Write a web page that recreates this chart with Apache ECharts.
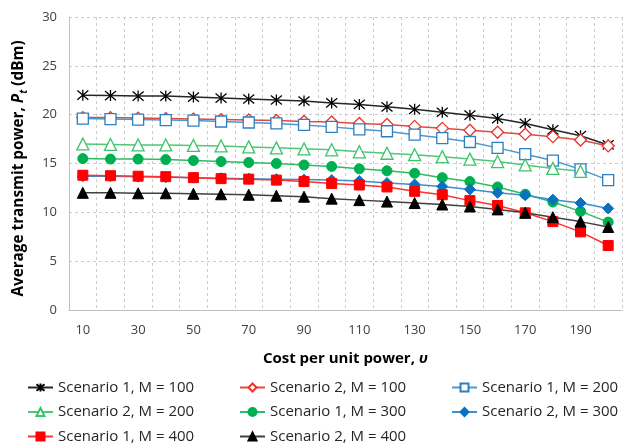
<!DOCTYPE html>
<html>
<head>
<meta charset="utf-8">
<script src="https://cdn.jsdelivr.net/npm/echarts@6/dist/echarts.min.js"></script>
<style>html,body{margin:0;padding:0;background:#fff}#c{width:624px;height:444px}</style>
</head>
<body>
<div id="c"></div>
<script>
var categories = [10,20,30,40,50,60,70,80,90,100,110,120,130,140,150,160,170,180,190,200];
var yTicks = [0,5,10,15,20,25,30];
var s1m100 = [22.0,21.95,21.9,21.9,21.8,21.7,21.6,21.5,21.4,21.2,21.05,20.8,20.55,20.25,19.95,19.6,19.1,18.45,17.85,16.9];
var s2m100 = [19.7,19.7,19.65,19.6,19.55,19.5,19.45,19.4,19.3,19.25,19.1,19.0,18.8,18.6,18.4,18.2,18.0,17.75,17.4,16.8];
var s1m200 = [19.6,19.55,19.5,19.45,19.4,19.3,19.2,19.1,18.95,18.75,18.5,18.3,17.95,17.6,17.2,16.6,15.95,15.3,14.4,13.3];
var s2m200 = [17.0,16.95,16.9,16.9,16.85,16.8,16.7,16.6,16.5,16.4,16.2,16.05,15.9,15.7,15.45,15.2,14.85,14.5,14.2,null];
var s1m300 = [15.5,15.45,15.45,15.4,15.3,15.2,15.1,15.0,14.85,14.7,14.45,14.25,14.0,13.55,13.15,12.6,11.85,11.05,10.1,9.0];
var s2m300 = [13.7,13.7,13.65,13.6,13.55,13.5,13.45,13.4,13.35,13.3,13.2,13.0,12.85,12.65,12.35,12.0,11.75,11.3,10.95,10.4];
var s1m400 = [13.8,13.75,13.7,13.65,13.55,13.45,13.4,13.3,13.15,12.95,12.8,12.6,12.15,11.8,11.2,10.7,9.95,9.05,8.0,6.6];
var s2m400 = [12.0,12.0,11.95,11.95,11.9,11.85,11.8,11.7,11.6,11.4,11.25,11.1,10.95,10.8,10.6,10.3,9.95,9.5,9.05,8.5];
var names = ['Scenario 1, M = 100','Scenario 2, M = 100','Scenario 1, M = 200','Scenario 2, M = 200',
             'Scenario 1, M = 300','Scenario 2, M = 300','Scenario 1, M = 400','Scenario 2, M = 400'];

var FONT = '"Open Sans", "Liberation Sans", sans-serif';
var asterisk = 'path://M0,0L10,10M10,0L0,10M5,-1L5,11';

function mk(name, data, color, symbol, size, hollow, lineColor) {
  return {
    name: name, type: 'line', data: data,
    symbol: symbol, symbolSize: size,
    showAllSymbol: true,
    lineStyle: { color: lineColor || color, width: 1.5 },
    itemStyle: hollow ? { color: '#fff', borderColor: color, borderWidth: 1.3 }
                      : { color: color, borderColor: color, borderWidth: 1 },
    emphasis: { disabled: true },
    animation: false
  };
}

var series = [
  { name: names[0], type: 'line', data: s1m100, symbol: asterisk, symbolSize: 11, showAllSymbol: true,
    lineStyle: { color: '#262626', width: 1.5 },
    itemStyle: { color: 'rgba(0,0,0,0)', borderColor: '#000', borderWidth: 1.3 },
    emphasis: { disabled: true }, animation: false },
  mk(names[1], s2m100, '#e8352e', 'diamond', 12, true, '#e04a44'),
  mk(names[2], s1m200, '#2e7fbf', 'rect', 11, true, '#4b98d0'),
  mk(names[3], s2m200, '#3cc46a', 'triangle', 12, true, '#50c878'),
  mk(names[4], s1m300, '#00b050', 'circle', 10, false, '#2cbc63'),
  mk(names[5], s2m300, '#0a70c0', 'diamond', 11, false, '#3a8fd0'),
  mk(names[6], s1m400, '#ff0000', 'rect', 10, false, '#ff3030'),
  mk(names[7], s2m400, '#000000', 'triangle', 11, false, '#404040')
];

var colX = [27, 239, 451];
var rowY = [380, 404.5, 429];
var legendPos = [[0,0],[1,0],[2,0],[0,1],[1,1],[2,1],[0,2],[1,2]];
var legends = names.map(function (n, i) {
  return {
    orient: 'horizontal', left: colX[legendPos[i][0]], top: rowY[legendPos[i][1]],
    itemWidth: 25, itemHeight: 10, itemGap: 0, padding: 0,
    data: [n], selectedMode: false,
    textStyle: { fontFamily: FONT, fontSize: 15, color: '#262626' }
  };
});

var chart = echarts.init(document.getElementById('c'), null, { renderer: 'canvas' });
chart.setOption({
  backgroundColor: '#fff',
  animation: false,
  grid: { left: 69, right: 2, top: 17, bottom: 134, containLabel: false },
  legend: legends,
  xAxis: {
    type: 'category', data: categories, boundaryGap: true,
    name: '{b|Cost per unit power, }{i|υ}',
    nameLocation: 'middle', nameGap: 41,
    nameTextStyle: {
      rich: {
        b: { fontFamily: FONT, fontSize: 15, fontWeight: 'bold', color: '#000' },
        i: { fontFamily: FONT, fontSize: 15, fontWeight: 'bold', fontStyle: 'italic', color: '#000' }
      }
    },
    axisLine: { lineStyle: { color: '#bfbfbf', width: 1 } },
    axisTick: { show: false },
    axisLabel: { interval: 1, fontFamily: FONT, fontSize: 13, color: '#404040', margin: 14 },
    splitLine: { show: true, interval: 0, lineStyle: { color: '#cccccc', type: [3, 3], width: 1 } }
  },
  yAxis: {
    type: 'value', min: 0, max: 30, interval: 5,
    name: '{b|Average transmit power, }{i|P}{s|t}{b| (dBm)}',
    nameLocation: 'middle', nameGap: 40, nameRotate: 90,
    nameTextStyle: {
      padding: [0, 10, 0, 0],
      rich: {
        b: { fontFamily: FONT, fontSize: 15.3, fontWeight: 'bold', color: '#000', lineHeight: 20, verticalAlign: 'middle' },
        i: { fontFamily: FONT, fontSize: 15.3, fontWeight: 'bold', fontStyle: 'italic', color: '#000', lineHeight: 20, verticalAlign: 'middle' },
        s: { fontFamily: FONT, fontSize: 10, fontWeight: 'bold', fontStyle: 'italic', color: '#000', lineHeight: 20, verticalAlign: 'bottom' }
      }
    },
    axisLine: { show: true, lineStyle: { color: '#bfbfbf', width: 1 } },
    axisTick: { show: false },
    axisLabel: { fontFamily: FONT, fontSize: 13, color: '#404040', margin: 12,
      formatter: function (v) { return yTicks.indexOf(v) >= 0 ? String(v) : ''; } },
    splitLine: { show: true, lineStyle: { color: '#cccccc', type: [3, 3], width: 1 } }
  },
  series: series
});
</script>
</body>
</html>
